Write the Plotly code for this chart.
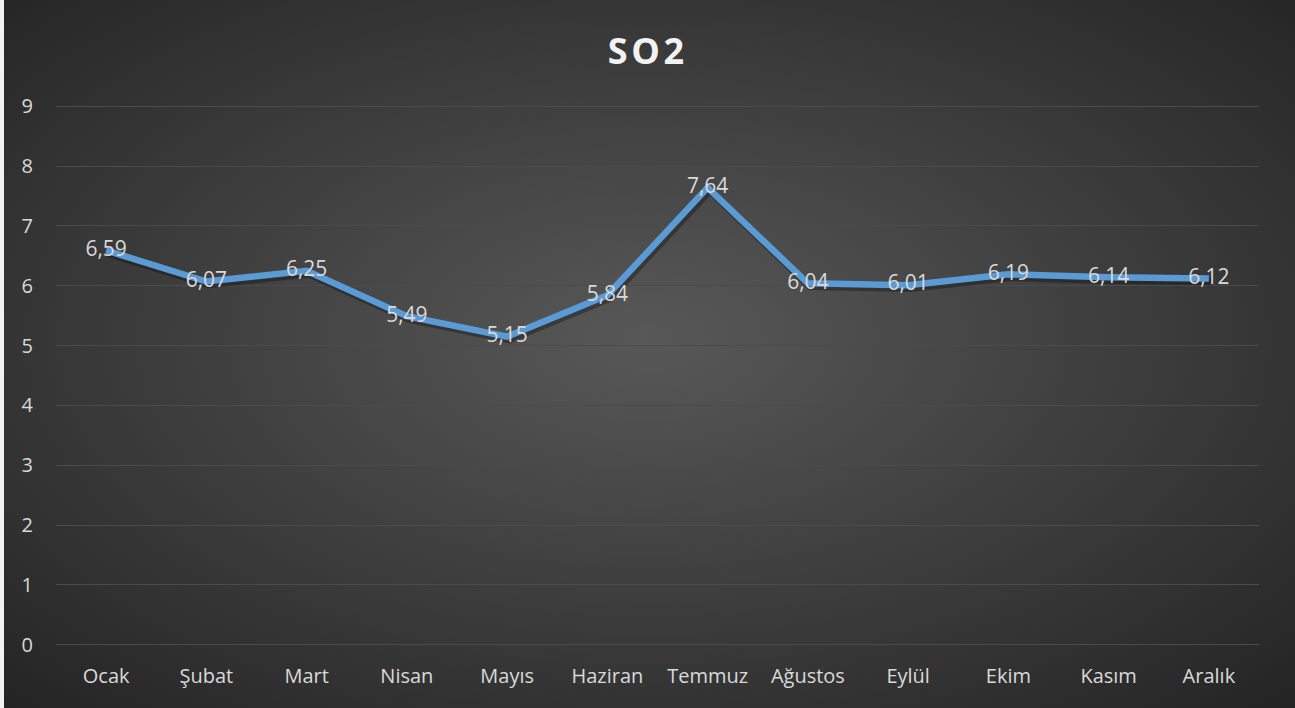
import plotly.graph_objects as go
import base64

months = ["Ocak", "Şubat", "Mart", "Nisan", "Mayıs", "Haziran", "Temmuz",
          "Ağustos", "Eylül", "Ekim", "Kasım", "Aralık"]
so2 = [6.59, 6.07, 6.25, 5.49, 5.15, 5.84, 7.64, 6.04, 6.01, 6.19, 6.14, 6.12]
y_ticks = [0, 1, 2, 3, 4, 5, 6, 7, 8, 9]
labels = [f"{v:.2f}".replace(".", ",") for v in so2]

W, H = 1295, 708
L, R, T, B = 56, 36, 105, 62
PW, PH = W - L - R, H - T - B
YR = [-0.02, 9.02]
XR = [-0.5, 11.5]
FONT = "Open Sans, Liberation Sans, sans-serif"

svg = f'''<svg xmlns="http://www.w3.org/2000/svg" width="{W}" height="{H}" viewBox="0 0 {W} {H}" preserveAspectRatio="none">
<defs><radialGradient id="g" cx="50%" cy="48%" r="72%" gradientUnits="objectBoundingBox">
<stop offset="0" stop-color="#585858"/><stop offset="1" stop-color="#242424"/></radialGradient></defs>
<rect width="{W}" height="{H}" fill="url(#g)"/></svg>'''
src = "data:image/svg+xml;base64," + base64.b64encode(svg.encode()).decode()

fig = go.Figure()
# base (invisible) trace so the category axis gets its labels
fig.add_trace(go.Scatter(x=months, y=so2, mode="lines", line=dict(color="rgba(0,0,0,0)", width=0),
                         hoverinfo="skip", showlegend=False))
# soft shadow on shifted overlay axes
fig.add_trace(go.Scatter(x=months, y=so2, mode="lines", xaxis="x2", yaxis="y2",
                         line=dict(color="rgba(0,0,0,0.3)", width=7.5),
                         hoverinfo="skip", showlegend=False))
# main line with data labels
fig.add_trace(go.Scatter(
    x=months, y=so2, mode="lines+text", text=labels, xaxis="x3", yaxis="y3",
    textposition="middle center",
    textfont=dict(family=FONT, size=21, color="#d9d9d9"),
    line=dict(color="#5b9bd5", width=6.5),
    cliponaxis=False, hoverinfo="skip", showlegend=False,
))

dx = 2 / (PW / 12)   # shadow shift right in category units
dy = 3 / (PH / (YR[1] - YR[0]))  # shadow shift down in value units

fig.update_layout(
    width=W, height=H,
    margin=dict(l=L, r=R, t=T, b=B),
    paper_bgcolor="#2b2b2b",
    plot_bgcolor="rgba(0,0,0,0)",
    images=[dict(source=src, xref="paper", yref="paper", x=-L / PW, y=1 + T / PH,
                 sizex=W / PW, sizey=H / PH, xanchor="left", yanchor="top",
                 sizing="stretch", layer="below")],
    shapes=[dict(type="rect", xref="paper", yref="paper", x0=-L / PW, x1=(4 - L) / PW,
                 y0=-B / PH, y1=1 + T / PH, fillcolor="#f2f2f2", line=dict(width=0), layer="above")],
    title=dict(text="<b>S O 2</b>".replace(" ", "&#8202;"), x=(646 - L) / PW, xref="paper", xanchor="center",
               y=1 - 51 / H, yanchor="middle",
               font=dict(family=FONT, size=36, color="#f2f2f2")),
    font=dict(family=FONT, size=20, color="#d9d9d9"),
    xaxis=dict(type="category", range=XR, showgrid=False, zeroline=False,
               showline=False, ticks="", ticklabelstandoff=16,
               tickfont=dict(size=20, color="#d9d9d9")),
    yaxis=dict(range=YR, tickvals=y_ticks, showgrid=True, gridcolor="#4b4b4b",
               gridwidth=1.4, zeroline=False, showline=False, ticks="",
               ticklabelstandoff=22, tickfont=dict(size=20, color="#d9d9d9")),
    xaxis2=dict(type="category", range=[XR[0] - dx, XR[1] - dx], overlaying="x", visible=False),
    yaxis2=dict(range=[YR[0] + dy, YR[1] + dy], overlaying="y", visible=False),
    xaxis3=dict(type="category", range=XR, overlaying="x", visible=False),
    yaxis3=dict(range=YR, overlaying="y", visible=False),
)

fig.write_html("out.html", config={"displayModeBar": False},
               post_script="document.body.style.margin='0';document.body.style.overflow='hidden';")
